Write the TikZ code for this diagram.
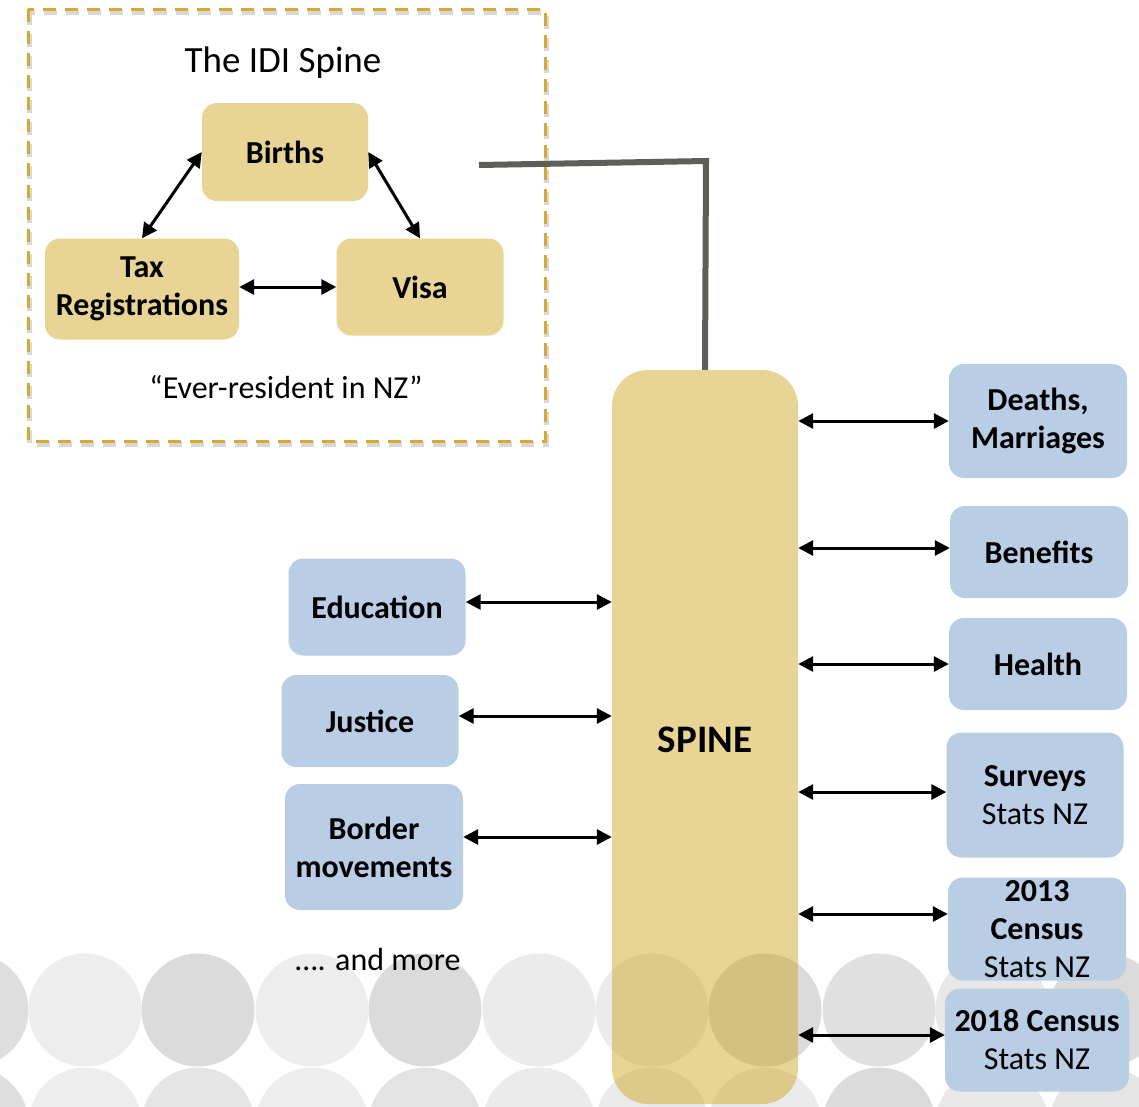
\documentclass[tikz,border=0pt]{standalone}
\usepackage{fontspec}
\setmainfont{Carlito}
\usepackage{tikz}
\usetikzlibrary{arrows.meta}

\definecolor{spinegold}{HTML}{E8D595}
\definecolor{spinedeep}{HTML}{CCA214}
\definecolor{srcblue}{HTML}{B9CDE4}
\definecolor{dashgold}{HTML}{D6A935}
\definecolor{linkgrey}{HTML}{5E5F58}

\newcommand{\lblsize}{\fontsize{32}{38}\selectfont}
\newcommand{\titlesize}{\fontsize{37}{44}\selectfont}
\newcommand{\spinesize}{\fontsize{39}{47}\selectfont}

\tikzset{
  goldbox/.style={rectangle, rounded corners=15pt, fill=spinegold, align=center,
    font=\lblsize\bfseries, inner sep=0pt},
  srcbox/.style={rectangle, rounded corners=15pt, fill=srcblue, align=center,
    font=\lblsize\bfseries, inner sep=0pt},
  link/.style={line width=3pt,
    {Triangle[length=15pt,width=15pt]}-{Triangle[length=15pt,width=15pt]}},
  dashbox/.style={draw=dashgold, line width=3pt, dash pattern=on 13pt off 9pt},
}

\begin{document}
\begin{tikzpicture}[x=1pt, y=-1pt]
        \clip (0,0) rectangle (1139,1106);
        \fill[white] (0,0) rectangle (1139,1106);

        % grey discs along the bottom
        \foreach \cx/\ga/\gb in {-28/13/13, 85/7/7, 198/14/10, 312/7/7,
            425/14/11, 539/8/8, 652/8/8, 765/14/8, 879/12/14,
            992/9/9, 1106/14/10} {
          \fill [black!\ga] (\cx,1010) circle [radius=56.5];
          \fill [black!\gb] (\cx,1124) circle [radius=56.5];
        }

        % the spine column, see-through over the discs
        \node [rectangle, rounded corners=36pt, fill=spinedeep, fill opacity=.45,
          minimum width=186pt, minimum height=734pt, inner sep=0pt] (spine) at (705,737) {};
        \node [font=\spinesize\bfseries] (spinetxt) at (705,740) {SPINE};

        % the IDI spine group
        \draw [dashbox, draw=black!60, opacity=.25, line width=5pt] (29,12) rectangle (546,444);
        \draw [dashbox] (28,9) rectangle (545,441);
        \node [font=\titlesize] (title) at (283,63) {The IDI Spine};

        \node [goldbox, minimum width=166pt, minimum height=98pt] (births) at (285,152) {Births};
        \node [goldbox, minimum width=194pt, minimum height=101pt] (tax) at (142,289) {Tax\\Registrations};
        \node [goldbox, minimum width=167pt, minimum height=97pt] (visa) at (420,287) {Visa};
        \node [font=\lblsize] (ever) at (286,387) {“Ever-resident in NZ”};

        \draw [link] (births.west) -- (tax.north);
        \draw [link] (births.east) -- (visa.north);
        \draw [link] (visa.west -| tax.east) -- (visa.west);

        \coordinate (linkstart) at (479,165);
        \coordinate (elbow) at (706,161);
        \draw [linkgrey, line width=6pt] (linkstart) -- (elbow) -- (spine.north);

        % sources on the right
        \node [srcbox, minimum width=178pt, minimum height=114pt] (deaths) at (1038,421) {Deaths,\\Marriages};
        \node [srcbox, minimum width=178pt, minimum height=92pt] (benefits) at (1039,552) {Benefits};
        \node [srcbox, minimum width=178pt, minimum height=92pt] (health) at (1038,664) {Health};
        \node [srcbox, minimum width=177pt, minimum height=125pt] (surveys) at (1035,795) {Surveys\\\textmd{Stats NZ}};
        \node [srcbox, minimum width=178pt, minimum height=103pt] (census13) at (1037,929) {2013\\Census\\\textmd{Stats NZ}};
        \node [srcbox, minimum width=184pt, minimum height=103pt] (census18) at (1037,1040) {2018 Census\\\textmd{Stats NZ}};

        \draw [link] (spine.east |- deaths.west) -- (deaths.west);
        \draw [link] ([yshift=4pt]spine.east |- benefits.west) -- ([yshift=4pt]benefits.west);
        \draw [link] (spine.east |- health.west) -- (health.west);
        \draw [link] ([yshift=3pt]spine.east |- surveys.west) -- ([yshift=3pt]surveys.west);
        \draw [link] ([yshift=15pt]spine.east |- census13.west) -- ([yshift=15pt]census13.west);
        \draw [link] ([yshift=5pt]spine.east |- census18.west) -- ([yshift=5pt]census18.west);

        % sources on the left
        \node [srcbox, minimum width=177pt, minimum height=97pt] (edu) at (377,607) {Education};
        \node [srcbox, minimum width=177pt, minimum height=92pt] (justice) at (370,721) {Justice};
        \node [srcbox, minimum width=178pt, minimum height=126pt] (border) at (374,847) {Border\\movements};
        \node [font=\lblsize] (more) at (378,959) {…. and more};

        \draw [link] ([yshift=5pt]edu.east) -- ([yshift=5pt]edu.east -| spine.west);
        \draw [link] ([yshift=5pt]justice.east) -- ([yshift=5pt]justice.east -| spine.west);
        \draw [link] ([yshift=10pt]border.east) -- ([yshift=10pt]border.east -| spine.west);
    \end{tikzpicture}
\end{document}
